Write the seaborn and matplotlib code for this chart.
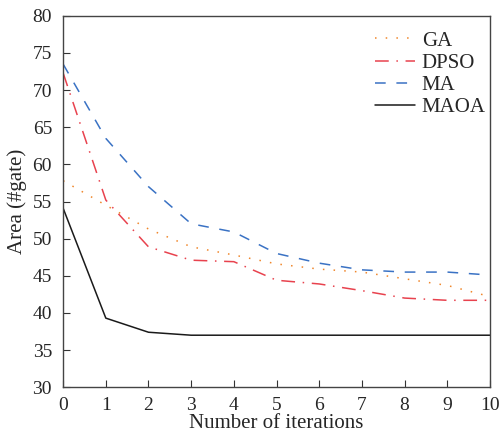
import pandas as pd
import matplotlib
matplotlib.use("Agg")
import matplotlib.pyplot as plt
import seaborn as sns

iterations = list(range(11))
ga = [57.8, 54.5, 51.3, 48.9, 47.8, 46.6, 45.9, 45.5, 44.6, 43.7, 42.2]
dpso = [72.3, 55.2, 48.9, 47.1, 46.9, 44.4, 43.9, 43.0, 42.0, 41.7, 41.7]
ma = [73.5, 63.5, 57.0, 52.0, 50.9, 48.0, 46.7, 45.8, 45.5, 45.5, 45.1]
maoa = [54.1, 39.3, 37.4, 37.0, 37.0, 37.0, 37.0, 37.0, 37.0, 37.0, 37.0]

df = pd.DataFrame({"iter": iterations, "GA": ga, "DPSO": dpso, "MA": ma, "MAOA": maoa})
df = df.melt(id_vars="iter", var_name="method", value_name="area")

sns.set_style("white")
plt.rcParams["font.family"] = ["Liberation Serif", "DejaVu Serif"]

colors = {"GA": "#f0862a", "DPSO": "#e8424e", "MA": "#3a72c4", "MAOA": "#1a1a1a"}
styles = {"GA": (0, (1, 6)), "DPSO": (0, (9, 5, 1, 5)), "MA": (0, (7, 7)), "MAOA": "-"}

fig, ax = plt.subplots(figsize=(5.01, 4.40), dpi=100)
for name in ["GA", "DPSO", "MA", "MAOA"]:
    sub = df[df["method"] == name]
    sns.lineplot(data=sub, x="iter", y="area", ax=ax, color=colors[name],
                 linestyle=styles[name], linewidth=1.1, label=name)

ax.set_xlim(0, 10)
ax.set_ylim(30, 80)
ax.set_xticks(range(11))
ax.set_yticks(range(30, 81, 5))
ax.tick_params(direction="in", length=5, labelsize=14, color="#333333",
               bottom=True, left=True, top=False, right=False)
ax.tick_params(axis="x", pad=7)
ax.tick_params(axis="y", pad=8)
for s in ax.spines.values():
    s.set_color("#444444")
    s.set_linewidth(1.0)
ax.set_xlabel("Number of iterations", fontsize=15, labelpad=0)
ax.set_ylabel("Area (#gate)", fontsize=15, labelpad=4)
ax.legend(frameon=False, loc="upper right", fontsize=15, handlelength=1.9,
          handletextpad=0.35, labelspacing=0.12, borderaxespad=0.0,
          borderpad=0.2, bbox_to_anchor=(1.0, 0.97))

fig.subplots_adjust(left=0.126, right=0.978, top=0.964, bottom=0.12)
fig.savefig("out.png", dpi=100)
